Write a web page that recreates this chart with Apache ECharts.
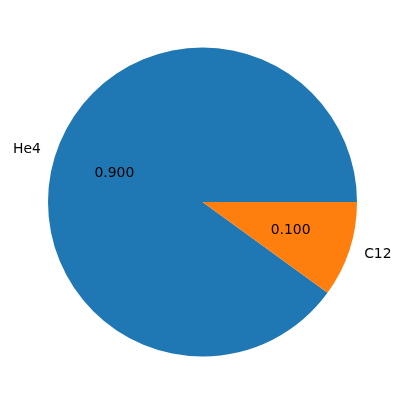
<!DOCTYPE html>
<html><head><meta charset="utf-8">
<script src="https://cdn.jsdelivr.net/npm/echarts@6/dist/echarts.min.js"></script>
<style>html,body{margin:0;padding:0;background:#fff}#c{width:405px;height:405px}</style>
</head><body><div id="c"></div>
<script>
const categories = ['He4', 'C12'];
const values = [0.9, 0.1];
const colors = ['#1f77b4', '#ff7f0e'];

const R = 154.5;
const center = [202.5, 202];
const font = {fontFamily: 'DejaVu Sans', fontSize: 13.9, color: '#000'};
const common = {type: 'pie', center: center, startAngle: 0, clockwise: false,
  silent: true, emphasis: {disabled: true}, labelLine: {show: false}, avoidLabelOverlap: false};

function midAngle(i) {
  const total = values.reduce((a, b) => a + b, 0);
  return (values.slice(0, i).reduce((a, b) => a + b, 0) + values[i] / 2) / total * 2 * Math.PI;
}

const chart = echarts.init(document.getElementById('c'), null, {renderer: 'canvas'});
chart.setOption({
  animation: false,
  series: [
    Object.assign({}, common, {
      radius: [0, R],
      label: {show: false},
      data: categories.map((c, i) => ({name: c, value: values[i], itemStyle: {color: colors[i]}}))
    }),
    Object.assign({}, common, {
      radius: [0, (R * 0.6 - 3) * 2],
      z: 3,
      label: Object.assign({show: true, position: 'inside', formatter: p => p.value.toFixed(3)}, font),
      data: categories.map((c, i) => ({name: c, value: values[i], itemStyle: {color: 'rgba(0,0,0,0)'}}))
    }),
    Object.assign({}, common, {
      radius: [0, (R * 1.1 - 3) * 2],
      z: 3,
      label: Object.assign({show: true, position: 'inside', formatter: '{b}'}, font),
      labelLayout: p => ({align: Math.cos(midAngle(p.dataIndex)) < 0 ? 'right' : 'left', verticalAlign: 'middle'}),
      data: categories.map((c, i) => ({name: c, value: values[i], itemStyle: {color: 'rgba(0,0,0,0)'}}))
    })
  ]
});
</script></body></html>
